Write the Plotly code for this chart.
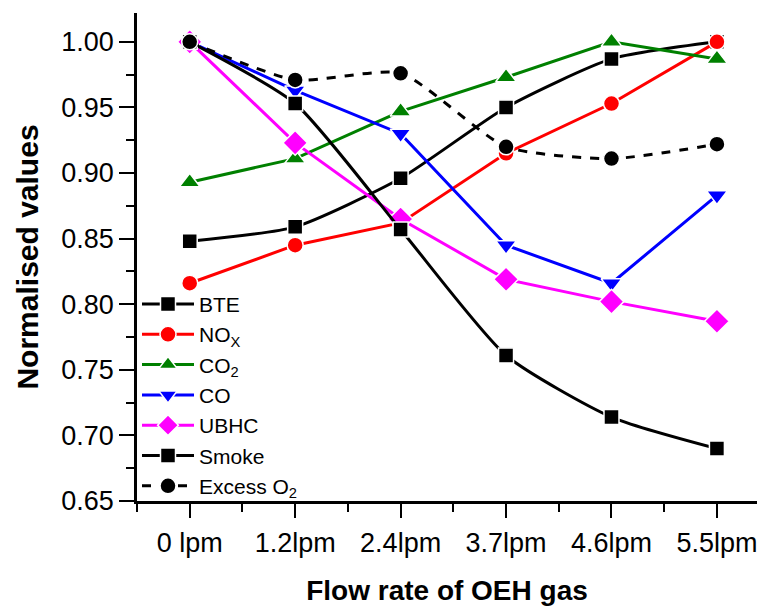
import plotly.graph_objects as go

# Flow rate categories of OEH gas
flow_labels = ["0 lpm", "1.2lpm", "2.4lpm", "3.7lpm", "4.6lpm", "5.5lpm"]
flow_pos = [0, 1, 2, 3, 4, 5]

# Normalised engine parameters
bte = [0.848, 0.859, 0.896, 0.950, 0.987, 1.000]
nox = [0.816, 0.845, 0.862, 0.915, 0.953, 1.000]
co2 = [0.893, 0.911, 0.947, 0.973, 1.000, 0.987]
co = [1.000, 0.963, 0.930, 0.845, 0.816, 0.883]
ubhc = [1.000, 0.923, 0.865, 0.819, 0.802, 0.787]
smoke = [1.000, 0.953, 0.857, 0.761, 0.714, 0.690]
excess_o2 = [1.000, 0.971, 0.976, 0.920, 0.911, 0.922]

series = [
    ("BTE", bte, "#000000", "square", 15, "solid", "spline"),
    ("NO<sub>X</sub>", nox, "#ff0000", "circle", 16, "solid", "linear"),
    ("CO<sub>2</sub>", co2, "#008000", "triangle-up", 18, "solid", "linear"),
    ("CO", co, "#0000ff", "triangle-down", 18, "solid", "linear"),
    ("UBHC", ubhc, "#ff00ff", "diamond", 19, "solid", "linear"),
    ("Smoke", smoke, "#000000", "square", 15, "solid", "spline"),
    ("Excess O<sub>2</sub>", excess_o2, "#000000", "circle", 16, "dash", "spline"),
]

fig = go.Figure()
for name, vals, color, symbol, size, dash, shape in series:
    fig.add_trace(go.Scatter(
        x=flow_pos, y=vals, name=name, mode="lines+markers",
        line=dict(color=color, width=3, dash=dash, shape=shape, smoothing=0.6),
        marker=dict(symbol=symbol, size=size, color=color,
                    line=dict(color="white", width=1.5)),
    ))

font_family = "Liberation Sans, Arial, sans-serif"

fig.update_layout(
    width=757, height=607,
    margin=dict(l=137, r=0, t=13, b=106),
    paper_bgcolor="white", plot_bgcolor="white",
    font=dict(family=font_family, color="#000000"),
    showlegend=True,
    legend=dict(
        x=0.0, y=0.445, xanchor="left", yanchor="top",
        bgcolor="rgba(0,0,0,0)", font=dict(size=21, family=font_family),
        itemwidth=52, tracegroupgap=0,
    ),
    xaxis=dict(
        range=[-0.5, 5.38], tickmode="array", tickvals=flow_pos, ticktext=flow_labels,
        showgrid=False, zeroline=False, showline=True, linecolor="#000000", linewidth=2.5,
        ticks="outside", ticklen=14, tickwidth=2, tickcolor="#000000",
        tickfont=dict(size=27), ticklabelstandoff=2, ticklabeloverflow="allow",
        minor=dict(tickvals=[-0.5, 0.5, 1.5, 2.5, 3.5, 4.5], ticks="outside",
                   ticklen=8, tickwidth=2, tickcolor="#000000", showgrid=False),
        title=dict(text="<b>Flow rate of OEH gas</b>", font=dict(size=28), standoff=24),
    ),
    yaxis=dict(
        range=[0.65, 1.022], tickmode="linear", tick0=0.65, dtick=0.05, tickformat=".2f",
        showgrid=False, zeroline=False, showline=True, linecolor="#000000", linewidth=2.5,
        ticks="outside", ticklen=15, tickwidth=2, tickcolor="#000000",
        tickfont=dict(size=27), ticklabelstandoff=0,
        minor=dict(dtick=0.025, tick0=0.65, ticks="outside", ticklen=8, tickwidth=2,
                   tickcolor="#000000", showgrid=False),
        title=dict(text="<b>Normalised values</b>", font=dict(size=30), standoff=14),
    ),
)

fig.write_html("out.html")
